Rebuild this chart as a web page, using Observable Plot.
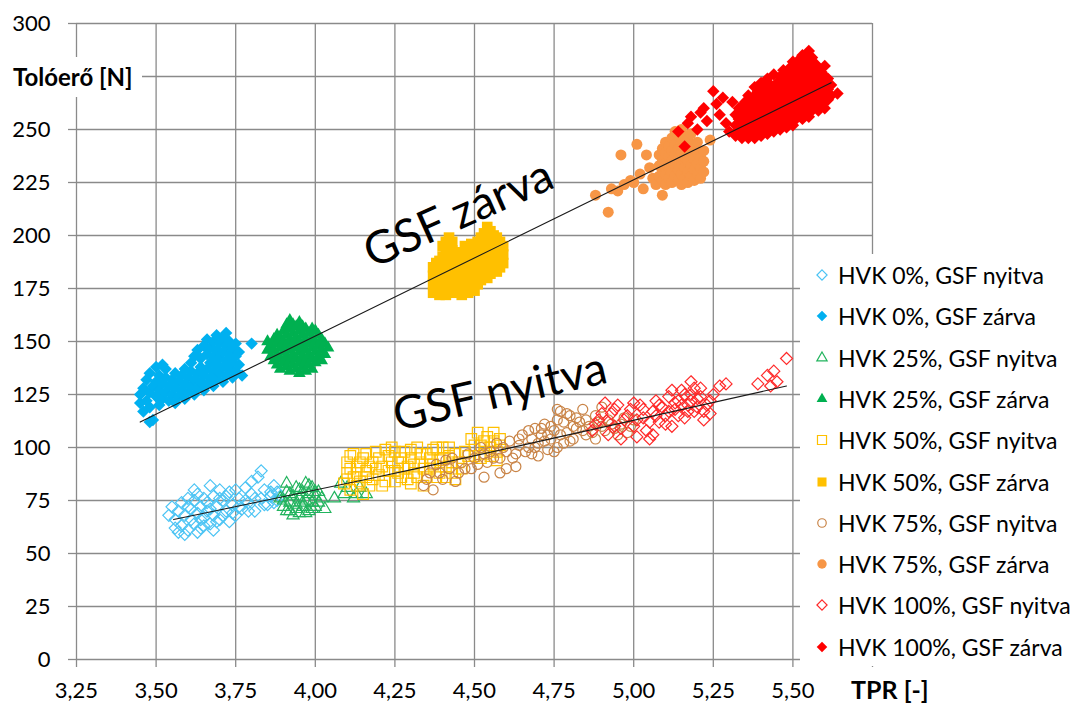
<!DOCTYPE html>
<html>
<head>
<meta charset="utf-8">
<script src="https://cdn.jsdelivr.net/npm/d3@7"></script>
<script src="https://cdn.jsdelivr.net/npm/@observablehq/plot@0.6"></script>
<style>
  html, body { margin: 0; padding: 0; background: #fff; }
  #wrap { position: relative; width: 1077px; height: 706px; font-family: Lato, "Open Sans", sans-serif; overflow: hidden; }
  #chart { position: absolute; left: 0; top: 0; }
  .ov { position: absolute; background: #fff; color: #000; }
  .leg-row { position: absolute; left: 0; height: 40px; display: flex; align-items: center; font-size: 23px; white-space: nowrap; }
  .leg-row svg { margin-left: 12px; margin-right: 6px; }
</style>
</head>
<body>
<div id="wrap">
  <div id="chart"></div>
</div>
<script>
// ---------- tick labels ----------
const xTicks = [3.25, 3.5, 3.75, 4, 4.25, 4.5, 4.75, 5, 5.25, 5.5, 5.75];
const xTickLabels = ["3,25","3,50","3,75","4,00","4,25","4,50","4,75","5,00","5,25","5,50",""];
const yTicks = [0, 25, 50, 75, 100, 125, 150, 175, 200, 225, 250, 275, 300];
const yTickLabels = ["0","25","50","75","100","125","150","175","200","225","250","","300"];
const xTitle = "TPR [-]";
const yTitle = "Tolóerő [N]";
const seriesNames = [
  "HVK 0%, GSF nyitva", "HVK 0%, GSF zárva",
  "HVK 25%, GSF nyitva", "HVK 25%, GSF zárva",
  "HVK 50%, GSF nyitva", "HVK 50%, GSF zárva",
  "HVK 75%, GSF nyitva", "HVK 75%, GSF zárva",
  "HVK 100%, GSF nyitva", "HVK 100%, GSF zárva"
];
const annotations = ["GSF zárva", "GSF nyitva"];

// ---------- series values [TPR, Tolóerő] ----------
const hvk0Nyitva = [[3.56,66],[3.57,70],[3.58,63],[3.59,68],[3.60,72],[3.60,61],[3.61,66],[3.62,75],[3.62,64],[3.63,69],[3.64,72],[3.64,62],[3.65,67],[3.66,74],[3.66,70],[3.67,64],[3.68,77],[3.68,68],[3.69,72],[3.70,66],[3.71,75],[3.72,70],[3.73,79],[3.73,65],[3.74,73],[3.75,68],[3.76,76],[3.77,71],[3.78,81],[3.79,74],[3.80,78],[3.81,70],[3.82,86],[3.83,76],[3.84,80],[3.85,73],[3.86,77],[3.87,82],[3.88,75],[3.62,80],[3.70,80],[3.57,60],
  [3.54,68],[3.55,72],[3.56,62],[3.58,74],[3.59,59],[3.61,71],[3.63,60],[3.63,78],[3.65,63],[3.65,76],[3.67,71],[3.67,82],[3.69,65],[3.70,76],[3.71,68],[3.72,77],[3.74,69],[3.75,80],[3.76,72],[3.78,75],[3.79,70],[3.80,84],[3.81,76],[3.83,89],[3.84,73],[3.86,79],[3.87,74],[3.88,79],[3.89,77],[3.60,76],[3.64,66],[3.68,61]];
const hvk0Zarva = [[3.45,121],[3.45,125],[3.46,117],[3.46,128],[3.47,122],[3.47,132],[3.48,119],[3.48,126],[3.48,135],[3.49,113],[3.49,129],[3.50,124],[3.50,131],[3.50,138],[3.51,120],[3.51,127],[3.51,134],[3.52,123],[3.52,130],[3.52,139],[3.53,126],[3.53,133],[3.53,137],[3.54,122],[3.54,129],[3.55,125],[3.55,132],[3.56,121],[3.56,128],[3.56,135],[3.57,124],[3.57,131],[3.58,127],[3.58,134],[3.59,123],[3.59,130],[3.59,137],[3.60,126],[3.60,133],[3.61,129],[3.61,136],[3.61,140],[3.62,125],[3.62,132],[3.62,143],[3.63,128],[3.63,135],[3.63,146],[3.64,131],[3.64,138],[3.64,142],[3.65,127],[3.65,134],[3.65,148],[3.66,130],[3.66,137],[3.66,144],[3.66,151],[3.67,133],[3.67,140],[3.67,147],[3.68,129],[3.68,136],[3.68,143],[3.68,150],[3.69,132],[3.69,139],[3.69,146],[3.69,153],[3.70,135],[3.70,142],[3.70,149],[3.71,131],[3.71,138],[3.71,145],[3.71,152],[3.72,134],[3.72,141],[3.72,148],[3.72,154],[3.73,137],[3.73,144],[3.73,150],[3.74,133],[3.74,140],[3.74,147],[3.75,136],[3.75,143],[3.75,149],[3.76,139],[3.76,145],[3.77,134],[3.80,149],[3.48,112]];
const hvk25Nyitva = [[3.89,76],[3.90,72],[3.91,79],[3.92,74],[3.92,70],[3.93,77],[3.94,81],[3.94,73],[3.95,69],[3.95,76],[3.96,79],[3.96,72],[3.97,83],[3.97,75],[3.98,70],[3.98,78],[3.99,74],[3.99,81],[4.00,72],[4.00,77],[3.93,68],[4.01,79],[4.06,76],[4.08,83],[4.09,78],[4.12,76],[4.16,78],[4.14,81],
  [3.90,75],[3.91,70],[3.92,78],[3.94,71],[3.95,80],[3.96,74],[3.97,69],[3.98,82],[3.99,71],[4.00,79],[4.01,74],[4.02,76],[3.91,83],[4.03,71],[4.10,81],[4.13,78]];
const hvk25Zarva = [[3.85,146],[3.85,150],[3.86,143],[3.86,148],[3.87,141],[3.87,146],[3.87,151],[3.88,139],[3.88,144],[3.88,149],[3.88,153],[3.89,137],[3.89,142],[3.89,147],[3.89,152],[3.90,140],[3.90,145],[3.90,150],[3.90,155],[3.91,138],[3.91,143],[3.91,148],[3.91,153],[3.91,158],[3.92,136],[3.92,141],[3.92,146],[3.92,151],[3.92,156],[3.92,160],[3.93,139],[3.93,144],[3.93,149],[3.93,154],[3.93,158],[3.94,137],[3.94,142],[3.94,147],[3.94,152],[3.94,157],[3.95,135],[3.95,140],[3.95,145],[3.95,150],[3.95,155],[3.95,159],[3.96,138],[3.96,143],[3.96,148],[3.96,153],[3.96,157],[3.97,136],[3.97,141],[3.97,146],[3.97,151],[3.97,156],[3.98,139],[3.98,144],[3.98,149],[3.98,154],[3.99,137],[3.99,142],[3.99,147],[3.99,152],[3.99,156],[4.00,140],[4.00,145],[4.00,150],[4.00,155],[4.01,143],[4.01,148],[4.01,153],[4.02,141],[4.02,146],[4.02,151],[4.03,144],[4.03,149],[4.04,147]];
const hvk50Nyitva = [[4.09,83],[4.10,88],[4.10,93],[4.11,80],[4.12,86],[4.12,97],[4.13,91],[4.14,84],[4.15,95],[4.16,89],[4.17,82],[4.18,93],[4.19,98],[4.20,87],[4.21,91],[4.22,84],[4.23,96],[4.24,100],[4.25,89],[4.26,93],[4.27,86],[4.28,98],[4.29,91],[4.30,95],[4.31,88],[4.32,100],[4.33,93],[4.34,82],[4.35,97],[4.36,90],[4.37,99],[4.38,86],[4.39,94],[4.40,100],[4.41,91],[4.42,96],[4.43,88],[4.45,93],[4.47,98],[4.49,104],[4.50,96],[4.51,107],[4.52,101],[4.53,97],[4.54,105],[4.55,100],[4.56,103],[4.57,98],[4.58,104],[4.15,78],[4.30,83],[4.44,85],
  [4.10,85],[4.11,90],[4.11,96],[4.13,82],[4.13,88],[4.14,93],[4.16,86],[4.16,97],[4.17,91],[4.18,85],[4.19,90],[4.20,95],[4.21,82],[4.22,99],[4.23,89],[4.24,93],[4.25,84],[4.25,98],[4.26,88],[4.27,95],[4.28,90],[4.29,85],[4.30,99],[4.31,92],[4.32,86],[4.33,97],[4.34,90],[4.35,86],[4.36,95],[4.37,92],[4.38,100],[4.39,88],[4.40,95],[4.41,86],[4.42,100],[4.43,93],[4.44,97],[4.46,90],[4.48,96],[4.50,101],[4.52,95],[4.53,103],[4.55,96],[4.56,107],[4.58,101],[4.57,94]];
const hvk50Zarva = [[4.37,173],[4.37,177],[4.37,181],[4.37,185],[4.38,175],[4.38,179],[4.38,183],[4.38,187],[4.39,172],[4.39,176],[4.39,180],[4.39,184],[4.39,188],[4.40,174],[4.40,178],[4.40,182],[4.40,186],[4.40,190],[4.40,195],[4.41,172],[4.41,176],[4.41,180],[4.41,184],[4.41,188],[4.41,192],[4.41,197],[4.42,175],[4.42,179],[4.42,183],[4.42,187],[4.42,191],[4.42,195],[4.42,199],[4.43,173],[4.43,177],[4.43,181],[4.43,185],[4.43,189],[4.43,193],[4.43,197],[4.44,176],[4.44,180],[4.44,184],[4.44,188],[4.44,192],[4.45,174],[4.45,178],[4.45,182],[4.45,186],[4.45,190],[4.46,172],[4.46,176],[4.46,180],[4.46,184],[4.46,188],[4.46,192],[4.47,175],[4.47,179],[4.47,183],[4.47,187],[4.47,191],[4.47,195],[4.48,173],[4.48,177],[4.48,181],[4.48,185],[4.48,189],[4.48,193],[4.49,176],[4.49,180],[4.49,184],[4.49,188],[4.49,192],[4.49,196],[4.50,174],[4.50,178],[4.50,182],[4.50,186],[4.50,190],[4.50,194],[4.51,177],[4.51,181],[4.51,185],[4.51,189],[4.51,193],[4.51,197],[4.52,179],[4.52,183],[4.52,187],[4.52,191],[4.52,195],[4.52,199],[4.53,181],[4.53,185],[4.53,189],[4.53,193],[4.53,197],[4.53,201],[4.54,180],[4.54,184],[4.54,188],[4.54,192],[4.54,196],[4.54,200],[4.54,204],[4.55,182],[4.55,186],[4.55,190],[4.55,194],[4.55,198],[4.55,202],[4.56,184],[4.56,188],[4.56,192],[4.56,196],[4.56,200],[4.57,183],[4.57,187],[4.57,191],[4.57,195],[4.57,199],[4.58,185],[4.58,189],[4.58,193],[4.58,197],[4.59,187],[4.59,191],[4.59,195]];
const hvk75Nyitva = [[4.34,82],[4.36,88],[4.38,92],[4.40,85],[4.42,90],[4.43,95],[4.45,88],[4.46,93],[4.48,97],[4.49,90],[4.50,95],[4.52,100],[4.53,86],[4.54,93],[4.55,98],[4.57,102],[4.58,95],[4.60,98],[4.61,103],[4.63,97],[4.64,101],[4.65,106],[4.67,100],[4.68,104],[4.69,109],[4.70,102],[4.71,106],[4.72,111],[4.73,99],[4.74,104],[4.75,108],[4.76,113],[4.77,117],[4.78,102],[4.79,107],[4.80,115],[4.81,104],[4.82,109],[4.83,112],[4.85,106],[4.86,110],[4.88,104],[4.89,112],[4.90,119],[4.91,108],[4.93,111],[4.95,106],[4.97,114],[4.99,110],[4.60,90],[4.70,96],[4.84,118],[4.75,98],
  [4.35,85],[4.37,80],[4.39,88],[4.41,94],[4.44,84],[4.47,90],[4.51,92],[4.53,97],[4.56,95],[4.59,100],[4.62,95],[4.64,104],[4.66,98],[4.67,108],[4.69,100],[4.71,109],[4.72,103],[4.74,110],[4.76,100],[4.77,106],[4.78,112],[4.79,116],[4.80,103],[4.81,110],[4.82,114],[4.84,108],[4.85,113],[4.87,107],[4.88,115],[4.90,110],[4.92,113],[4.94,109],[4.96,111],[4.98,107],[5.00,113],[4.63,91],[4.58,88],[4.68,97],[4.73,106],[4.76,118]];
const hvk75Zarva = [[4.88,219],[4.92,211],[4.93,222],[4.95,221],[4.96,238],[4.97,224],[4.99,226],[5.00,225],[5.01,243],[5.02,229],[5.04,238],[5.03,222],[5.05,232],[5.06,227],[5.09,219],[5.07,224],
  [5.08,228],[5.08,233],[5.08,238],[5.09,226],[5.09,231],[5.09,236],[5.09,241],[5.10,224],[5.10,229],[5.10,234],[5.10,239],[5.10,244],[5.11,227],[5.11,232],[5.11,237],[5.11,242],[5.12,225],[5.12,230],[5.12,235],[5.12,240],[5.12,246],[5.13,228],[5.13,233],[5.13,238],[5.13,243],[5.13,249],[5.14,226],[5.14,231],[5.14,236],[5.14,241],[5.14,247],[5.15,224],[5.15,229],[5.15,234],[5.15,239],[5.15,244],[5.15,250],[5.16,227],[5.16,232],[5.16,237],[5.16,242],[5.16,247],[5.17,225],[5.17,230],[5.17,235],[5.17,240],[5.17,245],[5.18,228],[5.18,233],[5.18,238],[5.18,243],[5.18,248],[5.19,226],[5.19,231],[5.19,236],[5.19,241],[5.20,229],[5.20,234],[5.20,239],[5.20,244],[5.21,227],[5.21,232],[5.21,237],[5.22,230],[5.22,235],[5.22,240],[5.24,245]];
const hvk100Nyitva = [[4.87,108],[4.89,113],[4.91,121],[4.92,106],[4.93,116],[4.94,110],[4.96,104],[4.97,113],[4.99,118],[5.00,110],[5.02,120],[5.03,114],[5.04,108],[5.06,106],[5.06,117],[5.07,122],[5.08,112],[5.09,119],[5.10,115],[5.11,124],[5.12,110],[5.13,118],[5.14,122],[5.15,127],[5.16,114],[5.17,120],[5.18,131],[5.18,125],[5.19,117],[5.20,123],[5.21,128],[5.22,113],[5.23,120],[5.24,116],[5.27,129],[5.29,130],[5.39,130],[5.42,134],[5.43,129],[5.44,136],[5.45,131],[5.48,142],[5.12,127],[4.95,120],
  [4.88,111],[4.90,116],[4.92,112],[4.94,118],[4.96,109],[4.98,115],[5.00,121],[5.01,113],[5.03,118],[5.05,112],[5.07,115],[5.08,120],[5.10,111],[5.11,117],[5.13,121],[5.14,115],[5.15,120],[5.16,125],[5.17,117],[5.18,122],[5.19,128],[5.20,119],[5.21,124],[5.22,117],[5.24,122],[5.25,125],[5.01,105],[5.05,104]];
const hvk100Zarva = [[5.14,249],[5.16,242],[5.17,253],[5.18,256],[5.20,250],[5.21,258],[5.22,260],[5.23,254],[5.25,268],[5.26,262],[5.27,257],[5.28,265],[5.29,253],[5.30,249],[5.31,263],
  [5.32,247],[5.32,252],[5.32,257],[5.33,250],[5.33,255],[5.33,260],[5.34,246],[5.34,251],[5.34,256],[5.34,261],[5.35,248],[5.35,253],[5.35,258],[5.35,263],[5.36,246],[5.36,251],[5.36,256],[5.36,261],[5.36,266],[5.37,248],[5.37,253],[5.37,258],[5.37,263],[5.38,246],[5.38,251],[5.38,256],[5.38,261],[5.38,266],[5.38,270],[5.39,249],[5.39,254],[5.39,259],[5.39,264],[5.39,268],[5.40,247],[5.40,252],[5.40,257],[5.40,262],[5.40,267],[5.40,272],[5.41,250],[5.41,255],[5.41,260],[5.41,265],[5.41,270],[5.42,248],[5.42,253],[5.42,258],[5.42,263],[5.42,268],[5.42,274],[5.43,251],[5.43,256],[5.43,261],[5.43,266],[5.43,271],[5.44,249],[5.44,254],[5.44,259],[5.44,264],[5.44,269],[5.44,276],[5.45,252],[5.45,257],[5.45,262],[5.45,267],[5.45,272],[5.46,250],[5.46,255],[5.46,260],[5.46,265],[5.46,270],[5.46,275],[5.47,253],[5.47,258],[5.47,263],[5.47,268],[5.47,273],[5.47,278],[5.48,251],[5.48,256],[5.48,261],[5.48,266],[5.48,271],[5.48,276],[5.49,254],[5.49,259],[5.49,264],[5.49,269],[5.49,274],[5.49,279],[5.50,252],[5.50,257],[5.50,262],[5.50,267],[5.50,272],[5.50,277],[5.50,282],[5.51,255],[5.51,260],[5.51,265],[5.51,270],[5.51,275],[5.51,280],[5.52,257],[5.52,262],[5.52,267],[5.52,272],[5.52,277],[5.52,283],[5.53,255],[5.53,260],[5.53,265],[5.53,270],[5.53,275],[5.53,280],[5.53,285],[5.54,258],[5.54,263],[5.54,268],[5.54,273],[5.54,278],[5.54,283],[5.55,256],[5.55,261],[5.55,266],[5.55,271],[5.55,276],[5.55,281],[5.55,287],[5.56,259],[5.56,264],[5.56,269],[5.56,274],[5.56,279],[5.56,284],[5.57,261],[5.57,266],[5.57,271],[5.57,276],[5.57,281],[5.58,259],[5.58,264],[5.58,269],[5.58,274],[5.58,279],[5.59,262],[5.59,267],[5.59,272],[5.59,277],[5.60,260],[5.60,265],[5.60,270],[5.60,275],[5.60,280],[5.61,264],[5.61,269],[5.61,274],[5.62,266],[5.62,271],[5.64,267]];

// trend lines
const trendZarva = [[3.45,112],[5.62,272]];
const trendNyitva = [[3.555,66],[3.80,73.7],[4.31,89.8],[4.90,109.5],[5.48,129]];

// ---------- styling (kept apart from data) ----------
const seriesData = [hvk0Nyitva, hvk0Zarva, hvk25Nyitva, hvk25Zarva, hvk50Nyitva, hvk50Zarva, hvk75Nyitva, hvk75Zarva, hvk100Nyitva, hvk100Zarva];
const styles = [
  {symbol: "diamond2", r: 5.4, stroke: "#4cc4f4"},
  {symbol: "diamond2", r: 5.6, fill: "#00b0f0"},
  {symbol: "triangle", r: 4.5, stroke: "#22b45e"},
  {symbol: "triangle", r: 4.7, fill: "#00b050"},
  {symbol: "square", r: 6, stroke: "#ffc000"},
  {symbol: "square", r: 6, fill: "#ffc000"},
  {symbol: "circle", r: 5, stroke: "#c98447"},
  {symbol: "circle", r: 5.5, fill: "#f79646"},
  {symbol: "diamond2", r: 5.4, stroke: "#ff2a2a"},
  {symbol: "diamond2", r: 5.6, fill: "#ff0000"}
];

const gridColor = "#8a8a8a";
const fmtX = d => xTickLabels[xTicks.indexOf(d)];
const fmtY = d => yTickLabels[yTicks.indexOf(d)];

const dotMarks = seriesData.map((data, i) => {
  const s = styles[i];
  return Plot.dot(data, {
    x: d => d[0], y: d => d[1],
    symbol: s.symbol, r: s.r,
    fill: s.fill ? s.fill : "none",
    stroke: s.stroke ? s.stroke : "none",
    strokeWidth: 1.2
  });
});

const chart = Plot.plot({
  width: 1077, height: 706,
  marginLeft: 76, marginRight: 205, marginTop: 23, marginBottom: 47,
  x: {domain: [3.25, 5.75]},
  y: {domain: [0, 300]},
  style: {fontFamily: "Lato, 'Open Sans', sans-serif", background: "#fff", color: "#000"},
  marks: [
    Plot.gridX(xTicks, {stroke: gridColor, strokeOpacity: 1, strokeWidth: 1.3}),
    Plot.gridY(yTicks, {stroke: gridColor, strokeOpacity: 1, strokeWidth: 1.3}),
    Plot.axisX(xTicks, {tickSize: 8, tickPadding: 15, tickFormat: fmtX, fontSize: 22, stroke: gridColor, strokeWidth: 1.3, fill: "#000", label: null}),
    Plot.axisY(yTicks, {tickSize: 8, tickPadding: 18, tickFormat: fmtY, fontSize: 22, stroke: gridColor, strokeWidth: 1.3, fill: "#000", label: null}),
    ...dotMarks,
    Plot.line(trendZarva, {x: d => d[0], y: d => d[1], stroke: "#1a1a1a", strokeWidth: 1.1}),
    Plot.line(trendNyitva, {x: d => d[0], y: d => d[1], stroke: "#1a1a1a", strokeWidth: 1.1, curve: "catmull-rom"}),
    Plot.text([annotations[0]], {x: 4.45, y: 210, text: d => d, rotate: -24, fontSize: 46, fill: "#000", textAnchor: "middle", lineAnchor: "middle"}),
    Plot.text([annotations[1]], {x: 4.58, y: 126, text: d => d, rotate: -13, fontSize: 46, fill: "#000", textAnchor: "middle", lineAnchor: "middle"})
  ]
});
document.getElementById("chart").appendChild(chart);

const wrap = document.getElementById("wrap");

// y axis title with white background
const yt = document.createElement("div");
yt.className = "ov";
yt.style.cssText = "left:10px;top:57px;width:132px;height:40px;line-height:40px;font-size:24px;font-weight:bold;padding-left:3px;box-sizing:border-box;white-space:nowrap;";
yt.textContent = yTitle;
wrap.appendChild(yt);

// x axis title with white background
const xt = document.createElement("div");
xt.className = "ov";
xt.style.cssText = "left:846px;top:673px;width:98px;height:33px;line-height:33px;font-size:25px;font-weight:bold;padding-left:5px;box-sizing:border-box;white-space:nowrap;";
xt.textContent = xTitle;
wrap.appendChild(xt);

// legend
const leg = document.createElement("div");
leg.className = "ov";
leg.style.cssText = "left:800px;top:254px;width:277px;height:412px;";
wrap.appendChild(leg);
const symMap = {diamond2: d3.symbolDiamond2, triangle: d3.symbolTriangle, square: d3.symbolSquare, circle: d3.symbolCircle};
seriesNames.forEach((name, i) => {
  const s = styles[i];
  const row = document.createElement("div");
  row.className = "leg-row";
  row.style.top = (21 + i * 41.3 - 20) + "px";
  const size = Math.PI * (s.r * 0.85) * (s.r * 0.85);
  const path = d3.symbol(symMap[s.symbol], size)();
  row.innerHTML = `<svg width="20" height="20" viewBox="-10 -10 20 20"><path d="${path}" fill="${s.fill || "none"}" stroke="${s.stroke || "none"}" stroke-width="1.2"/></svg><span>${name}</span>`;
  leg.appendChild(row);
});
</script>
</body>
</html>
